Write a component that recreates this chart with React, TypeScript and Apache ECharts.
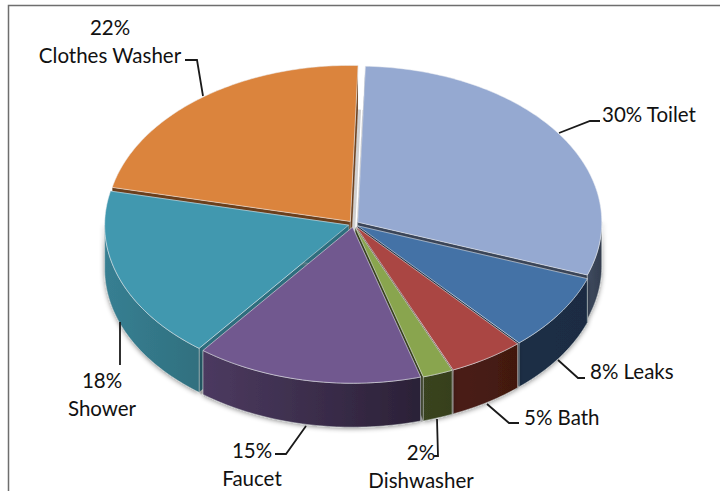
import React, { useEffect, useRef } from "react";
import * as echarts from "echarts";

const categories = ["Toilet", "Leaks", "Bath", "Dishwasher", "Faucet", "Shower", "Clothes Washer"];
const values = [30, 8, 5, 2, 15, 18, 22];
const topColors = ["#95A9D1", "#4472A6", "#AA4643", "#89A54E", "#71588F", "#4198AF", "#DB843D"];
const wallLeft = ["#3F4B60", "#1B2E45", "#4A1C18", "#3A4420", "#4C3A60", "#377F92", "#7A4A20"];
const wallRight = ["#333D4E", "#1A2C43", "#42190F", "#36401D", "#2B2137", "#30707F", "#6A3F1A"];
const faceColors = ["#3A4558", "#1B2E45", "#451A17", "#38411F", "#3A2C4C", "#2E6E7E", "#6B3F1C"];

const CX = 353.5;
const CY = 224;
const RX = 244;
const RY = 156;
const DEPTH = 44;
const EXPLODE = 0.021;
const START = 1.8;

const total = values.reduce((a, b) => a + b, 0);
const spans = (() => {
  let acc = START;
  return values.map((v) => {
    const a0 = acc;
    acc += (v / total) * 360;
    return [a0, acc];
  });
})();
const depthOrder = values
  .map((_, i) => i)
  .sort((a, b) => {
    const m = (i: number) => ((spans[i][0] + spans[i][1]) / 2) * (Math.PI / 180);
    return Math.cos(m(b)) - Math.cos(m(a));
  });

const leaderLines: number[][][] = [
  [[559, 133], [590, 121], [600, 121]],
  [[558, 360], [578, 378], [585, 378]],
  [[487, 404], [509, 423], [519, 423]],
  [[437, 419], [438, 456], [434, 456]],
  [[306, 426], [286, 454], [275, 454]],
  [[120, 322], [120, 365]],
  [[203, 96], [197, 60], [185, 60]],
];
const labelSpots: { x: number; y: number; align: string; twoLine: boolean }[] = [
  { x: 602, y: 114, align: "left", twoLine: false },
  { x: 590, y: 371, align: "left", twoLine: false },
  { x: 524, y: 417, align: "left", twoLine: false },
  { x: 421, y: 452, align: "center", twoLine: true },
  { x: 252, y: 450, align: "center", twoLine: true },
  { x: 102, y: 380, align: "center", twoLine: true },
  { x: 110, y: 27, align: "center", twoLine: true },
];

function renderSlice(_params: any, api: any) {
  const i = api.value(0);
  const [a0, a1] = spans[i];
  const mid = ((a0 + a1) / 2) * (Math.PI / 180);
  const ox = CX + EXPLODE * RX * Math.sin(mid);
  const oy = CY - EXPLODE * RY * Math.cos(mid);
  const pt = (deg: number, drop = 0) => {
    const t = (deg * Math.PI) / 180;
    return [ox + RX * Math.sin(t), oy - RY * Math.cos(t) + drop];
  };
  const arc = (s: number, e: number, drop = 0) => {
    const out: number[][] = [];
    const n = Math.max(2, Math.ceil(Math.abs(e - s)));
    for (let k = 0; k <= n; k++) out.push(pt(s + ((e - s) * k) / n, drop));
    return out;
  };
  const children: any[] = [];
  const shadow = { shadowBlur: 5, shadowColor: "rgba(0,0,0,0.45)", shadowOffsetY: 1 };
  [a0, a1].forEach((a) => {
    children.push({
      type: "polyline",
      shape: { points: [pt(a, DEPTH), [ox, oy + DEPTH]] },
      style: { fill: "none", stroke: "rgba(120,120,120,0.35)", lineWidth: 6 },
    });
    children.push({
      type: "polygon",
      shape: { points: [[ox, oy], pt(a), pt(a, DEPTH), [ox, oy + DEPTH]] },
      style: { fill: faceColors[i], stroke: "rgba(225,225,225,0.6)", lineWidth: 0.4 },
    });
  });
  const w0 = Math.max(a0, 90);
  const w1 = Math.min(a1, 270);
  if (w1 > w0) {
    children.push({
      type: "polygon",
      shape: { points: [...arc(w0, w1), ...arc(w1, w0, DEPTH)] },
      style: {
        fill: new echarts.graphic.LinearGradient(0, 0, 1, 0, [
          { offset: 0, color: wallLeft[i] },
          { offset: 1, color: wallRight[i] },
        ]),
        stroke: "rgba(205,210,210,0.7)",
        lineWidth: 0.8,
        ...shadow,
      },
    });
  }
  children.push({
    type: "polygon",
    shape: { points: [[ox, oy], ...arc(a0, a1)] },
    style: { fill: topColors[i], stroke: "rgba(235,238,242,0.65)", lineWidth: 0.8 },
  });
  return { type: "group", children };
}

export default function App() {
  const ref = useRef<HTMLDivElement>(null);
  useEffect(() => {
    const chart = echarts.init(ref.current!, undefined, { renderer: "svg" });
    const font = { fontFamily: "Lato", fontSize: 20.5, fill: "#111" };
    const graphics: any[] = [
      {
        type: "polyline",
        z: 1,
        shape: { points: [[8.5, 491], [8.5, 5.5], [720, 5.5]] },
        style: { fill: "none", stroke: "#6e6e6e", lineWidth: 1.5 },
      },
    ];
    categories.forEach((name, i) => {
      graphics.push({
        type: "polyline",
        z: 10,
        shape: { points: leaderLines[i] },
        style: { fill: "none", stroke: "#1a1a1a", lineWidth: 1.8 },
      });
      const s = labelSpots[i];
      const pct = `${values[i]}%`;
      if (s.twoLine) {
        graphics.push({
          type: "text", z: 10, x: s.x, y: s.y,
          style: { ...font, text: pct, align: s.align, verticalAlign: "middle" },
        });
        graphics.push({
          type: "text", z: 10, x: s.x, y: s.y + 27.5,
          style: { ...font, text: name, align: s.align, verticalAlign: "middle" },
        });
      } else {
        graphics.push({
          type: "text", z: 10, x: s.x, y: s.y,
          style: { ...font, text: `${pct} ${name}`, align: s.align, verticalAlign: "middle" },
        });
      }
    });
    chart.setOption({
      animation: false,
      backgroundColor: "#ffffff",
      graphic: graphics,
      series: [
        {
          type: "custom",
          coordinateSystem: "none",
          renderItem: renderSlice,
          silent: true,
          data: depthOrder.map((i) => [i, values[i]]),
        },
      ],
    });
    return () => chart.dispose();
  }, []);
  return <div ref={ref} style={{ position: "absolute", left: 0, top: 0, width: 720, height: 491 }} />;
}
